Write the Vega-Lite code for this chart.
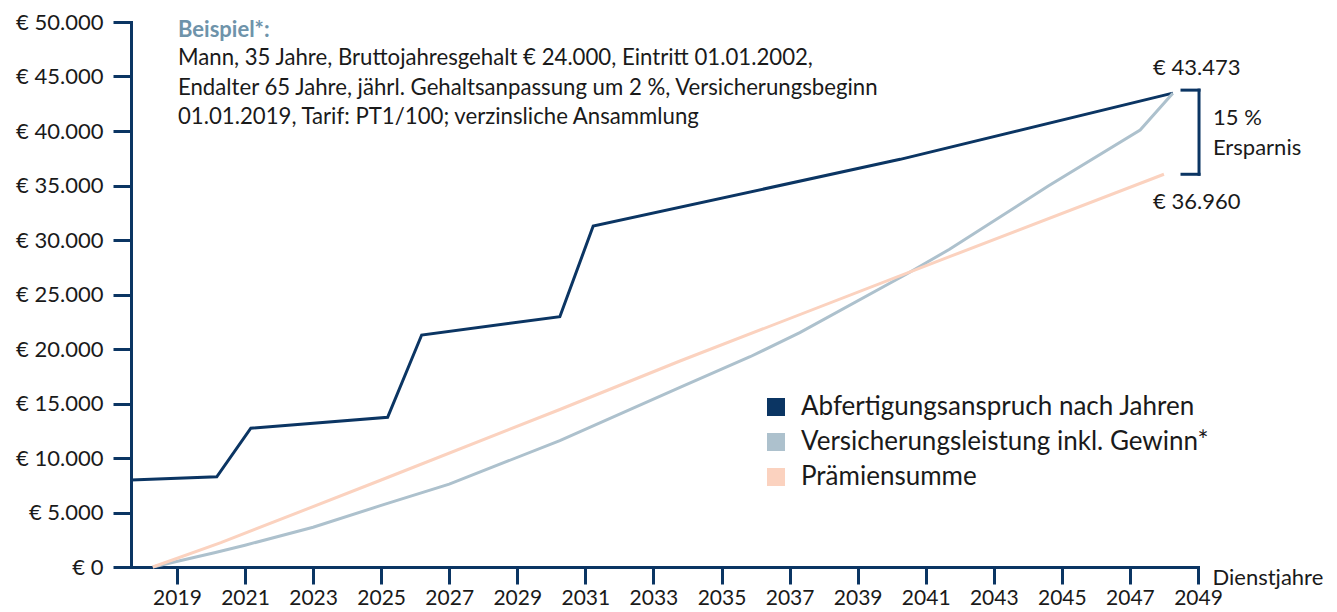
{
  "$schema": "https://vega.github.io/schema/vega-lite/v6.json",
  "autosize": "none",
  "width": 1067,
  "height": 545,
  "padding": {"left": 131, "top": 22, "right": 139, "bottom": 45},
  "background": "white",
  "config": {
    "view": {"stroke": null},
    "font": "Lato",
    "text": {"font": "Lato"}
  },
  "datasets": {
    "lines": [
      {"series": "Abfertigungsanspruch nach Jahren", "year": 2017.65, "value": 7980},
      {"series": "Abfertigungsanspruch nach Jahren", "year": 2020.17, "value": 8280},
      {"series": "Abfertigungsanspruch nach Jahren", "year": 2021.17, "value": 12730},
      {"series": "Abfertigungsanspruch nach Jahren", "year": 2025.19, "value": 13730},
      {"series": "Abfertigungsanspruch nach Jahren", "year": 2026.19, "value": 21280},
      {"series": "Abfertigungsanspruch nach Jahren", "year": 2030.25, "value": 22960},
      {"series": "Abfertigungsanspruch nach Jahren", "year": 2031.23, "value": 31280},
      {"series": "Abfertigungsanspruch nach Jahren", "year": 2040.25, "value": 37400},
      {"series": "Abfertigungsanspruch nach Jahren", "year": 2048.26, "value": 43473},
      {"series": "Versicherungsleistung inkl. Gewinn*", "year": 2018.29, "value": 0},
      {"series": "Versicherungsleistung inkl. Gewinn*", "year": 2020.1, "value": 1310},
      {"series": "Versicherungsleistung inkl. Gewinn*", "year": 2021, "value": 2000},
      {"series": "Versicherungsleistung inkl. Gewinn*", "year": 2023, "value": 3650},
      {"series": "Versicherungsleistung inkl. Gewinn*", "year": 2025, "value": 5650},
      {"series": "Versicherungsleistung inkl. Gewinn*", "year": 2027, "value": 7600},
      {"series": "Versicherungsleistung inkl. Gewinn*", "year": 2030.25, "value": 11600},
      {"series": "Versicherungsleistung inkl. Gewinn*", "year": 2033.78, "value": 16490},
      {"series": "Versicherungsleistung inkl. Gewinn*", "year": 2035.84, "value": 19290},
      {"series": "Versicherungsleistung inkl. Gewinn*", "year": 2037.3, "value": 21500},
      {"series": "Versicherungsleistung inkl. Gewinn*", "year": 2040.44, "value": 26880},
      {"series": "Versicherungsleistung inkl. Gewinn*", "year": 2041.7, "value": 29150},
      {"series": "Versicherungsleistung inkl. Gewinn*", "year": 2044.6, "value": 34950},
      {"series": "Versicherungsleistung inkl. Gewinn*", "year": 2047.3, "value": 40090},
      {"series": "Versicherungsleistung inkl. Gewinn*", "year": 2048.26, "value": 43473},
      {"series": "Prämiensumme", "year": 2018.29, "value": 0},
      {"series": "Prämiensumme", "year": 2020.29, "value": 2230},
      {"series": "Prämiensumme", "year": 2025, "value": 7980},
      {"series": "Prämiensumme", "year": 2030.25, "value": 14450},
      {"series": "Prämiensumme", "year": 2033.78, "value": 18900},
      {"series": "Prämiensumme", "year": 2041.7, "value": 28470},
      {"series": "Prämiensumme", "year": 2048.0, "value": 36030}
    ],
    "bracket": [
      {"x": 2048.53, "x2": 2049.03, "y": 43750, "y2": 43750},
      {"x": 2048.53, "x2": 2049.03, "y": 36030, "y2": 36030},
      {"x": 2049.03, "x2": 2049.03, "y": 36030, "y2": 43750}
    ],
    "valueLabels": [
      {"x": 2047.68, "y": 45780, "t": "€ 43.473"},
      {"x": 2047.68, "y": 33486, "t": "€ 36.960"}
    ],
    "saving": [
      {"x": 2049.44, "y": 41193, "t": "15 %"},
      {"x": 2049.44, "y": 38440, "t": "Ersparnis"}
    ],
    "heading": [
      {"x": 2019.03, "y": 49266, "t": "Beispiel*:"}
    ],
    "body": [
      {"x": 2019.03, "y": 46697, "t": ["Mann, 35 Jahre, Bruttojahresgehalt € 24.000, Eintritt 01.01.2002,", "Endalter 65 Jahre, jährl. Gehaltsanpassung um 2 %, Versicherungsbeginn", "01.01.2019, Tarif: PT1/100; verzinsliche Ansammlung"]}
    ]
  },
  "layer": [
    {
      "data": {"name": "lines"},
      "mark": {"type": "line", "strokeWidth": 3, "strokeJoin": "miter"},
      "encoding": {
        "x": {
          "field": "year", "type": "quantitative",
          "scale": {"domain": [2017.65, 2049], "nice": false, "zero": false},
          "axis": {
            "values": [2019, 2021, 2023, 2025, 2027, 2029, 2031, 2033, 2035, 2037, 2039, 2041, 2043, 2045, 2047, 2049],
            "format": "d",
            "grid": false,
            "domainColor": "#0b3563", "domainWidth": 3, "domainCap": "square",
            "tickColor": "#0b3563", "tickWidth": 3, "tickSize": 17,
            "labelFontSize": 21, "labelColor": "#1a1a1a", "labelPadding": 3, "labelFont": "Lato",
            "labelFlush": false, "labelOverlap": false,
            "title": "Dienstjahre", "titleFont": "Lato", "titleFontSize": 22, "titleFontWeight": "normal",
            "titleColor": "#1a1a1a", "titleAlign": "left", "titleBaseline": "alphabetic",
            "titleAnchor": null, "titleX": 1081, "titleY": 17
          }
        },
        "y": {
          "field": "value", "type": "quantitative",
          "scale": {"domain": [0, 50000], "nice": false},
          "axis": {
            "values": [0, 5000, 10000, 15000, 20000, 25000, 30000, 35000, 40000, 45000, 50000],
            "labelExpr": "'€ ' + replace(format(datum.value, ',d'), ',', '.')",
            "grid": false,
            "domainColor": "#0b3563", "domainWidth": 3, "domainCap": "square",
            "tickColor": "#0b3563", "tickWidth": 3, "tickSize": 18,
            "labelFontSize": 22, "labelColor": "#1a1a1a", "labelPadding": 10, "labelFont": "Lato",
            "labelFlush": false, "labelOverlap": false,
            "title": null
          }
        },
        "color": {
          "field": "series", "type": "nominal",
          "scale": {
            "domain": ["Abfertigungsanspruch nach Jahren", "Versicherungsleistung inkl. Gewinn*", "Prämiensumme"],
            "range": ["#0b3563", "#adc1cd", "#fbd2bf"]
          },
          "legend": {
            "title": null,
            "orient": "none",
            "legendX": 632,
            "legendY": 372,
            "symbolType": "square",
            "symbolSize": 324,
            "symbolStrokeWidth": 0,
            "labelFontSize": 26,
            "labelFont": "Lato",
            "labelColor": "#1a1a1a",
            "labelOffset": 12,
            "rowPadding": 9,
            "padding": 0,
            "labelLimit": 700,
            "encode": {
              "symbols": {"update": {"fill": {"scale": "color", "field": "value"}, "strokeWidth": {"value": 0}}}
            }
          }
        }
      }
    },
    {
      "data": {"name": "bracket"},
      "mark": {"type": "rule", "color": "#0b3563", "strokeWidth": 3, "strokeCap": "square"},
      "encoding": {
        "x": {"field": "x", "type": "quantitative"},
        "x2": {"field": "x2"},
        "y": {"field": "y", "type": "quantitative"},
        "y2": {"field": "y2"}
      }
    },
    {
      "data": {"name": "valueLabels"},
      "mark": {"type": "text", "align": "left", "baseline": "middle", "fontSize": 22, "color": "#1a1a1a"},
      "encoding": {
        "x": {"field": "x", "type": "quantitative"},
        "y": {"field": "y", "type": "quantitative"},
        "text": {"field": "t"}
      }
    },
    {
      "data": {"name": "saving"},
      "mark": {"type": "text", "align": "left", "baseline": "middle", "fontSize": 22, "color": "#1a1a1a"},
      "encoding": {
        "x": {"field": "x", "type": "quantitative"},
        "y": {"field": "y", "type": "quantitative"},
        "text": {"field": "t"}
      }
    },
    {
      "data": {"name": "heading"},
      "mark": {"type": "text", "align": "left", "baseline": "middle", "fontSize": 22, "fontWeight": "bold", "color": "#6e93aa"},
      "encoding": {
        "x": {"field": "x", "type": "quantitative"},
        "y": {"field": "y", "type": "quantitative"},
        "text": {"field": "t"}
      }
    },
    {
      "data": {"name": "body"},
      "mark": {"type": "text", "align": "left", "baseline": "middle", "fontSize": 22.2, "lineHeight": 29.5, "color": "#1a1a1a"},
      "encoding": {
        "x": {"field": "x", "type": "quantitative"},
        "y": {"field": "y", "type": "quantitative"},
        "text": {"field": "t"}
      }
    }
  ]
}
